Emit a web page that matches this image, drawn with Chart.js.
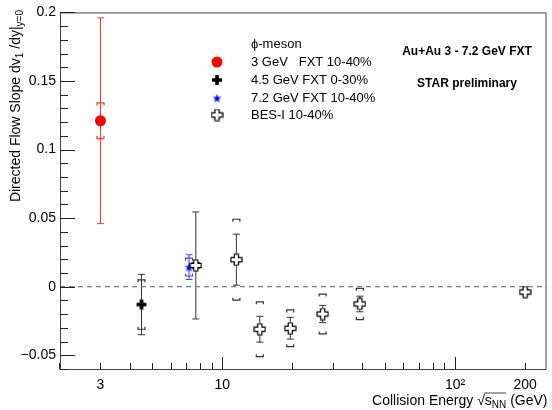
<!DOCTYPE html>
<html>
<head>
    <title>Directed flow slope of phi-meson</title>
    <style>
        body {
            margin: 0;
            background: #fff;
        }
        #wrap {
            width: 552px;
            height: 410px;
        }
    </style>
</head>
<body>
    <div id="wrap"><canvas id="flowChart"></canvas></div>

    <script src="https://cdn.jsdelivr.net/npm/chart.js"></script>
    <script>
        // values
        const phi3Energy = [3];
        const phi3Slope = [0.121];
        const phi3Stat = [0.075];
        const phi3Sys = [0.013];

        const phi45Energy = [4.5];
        const phi45Slope = [-0.013];
        const phi45Stat = [0.022];
        const phi45Sys = [0.018];

        const phi72Energy = [7.2];
        const phi72Slope = [0.0143];
        const phi72Stat = [0.009];
        const phi72Sys = [0.0065];

        const besEnergy = [7.7, 11.5, 14.5, 19.6, 27, 39, 200];
        const besSlope = [0.0155, 0.0197, -0.031, -0.0303, -0.0199, -0.0126, -0.0039];
        const besStat = [0.039, 0.0186, 0.0094, 0.0079, 0.0063, 0.0057, 0.001];
        const besSys = [0.002, 0.0295, 0.02, 0.0134, 0.0145, 0.0114, 0.0012];

        const xTickLabels = {3: '3', 10: '10', 100: '10\u00B2', 200: '200'};
        const xMajorTicks = [10, 100];
        const xMinorTicks = [2, 3, 4, 5, 6, 7, 8, 9, 20, 30, 40, 50, 60, 70, 80, 90, 200];
        const yTickVals = [-0.05, 0, 0.05, 0.1, 0.15, 0.2];
        const yMinorVals = [-0.06, -0.04, -0.03, -0.02, -0.01, 0.01, 0.02, 0.03, 0.04,
            0.06, 0.07, 0.08, 0.09, 0.11, 0.12, 0.13, 0.14, 0.16, 0.17, 0.18, 0.19];

        const legendLabels = ['3 GeV   FXT 10-40%', '4.5 GeV FXT 0-30%', '7.2 GeV FXT 10-40%', 'BES-I 10-40%'];

        const FONT = '"Liberation Sans", Arial, sans-serif';

        function toPoints(xs, ys) {
            return xs.map((x, i) => ({x: x, y: ys[i]}));
        }

        // little canvases used as point styles
        function crossMarker(size, arm, fill, stroke) {
            const c = document.createElement('canvas');
            c.width = size + 2;
            c.height = size + 2;
            const g = c.getContext('2d');
            const o = 1, s = size, a = arm, m = (s - a) / 2;
            g.beginPath();
            g.moveTo(o + m, o);
            g.lineTo(o + m + a, o);
            g.lineTo(o + m + a, o + m);
            g.lineTo(o + s, o + m);
            g.lineTo(o + s, o + m + a);
            g.lineTo(o + m + a, o + m + a);
            g.lineTo(o + m + a, o + s);
            g.lineTo(o + m, o + s);
            g.lineTo(o + m, o + m + a);
            g.lineTo(o, o + m + a);
            g.lineTo(o, o + m);
            g.lineTo(o + m, o + m);
            g.closePath();
            g.fillStyle = fill;
            g.fill();
            if (stroke) {
                g.strokeStyle = stroke;
                g.lineWidth = 1.2;
                g.stroke();
            }
            return c;
        }

        function starMarker(size, color) {
            const c = document.createElement('canvas');
            c.width = size;
            c.height = size;
            const g = c.getContext('2d');
            const cx = size / 2, cy = size / 2 + 0.5, R = size / 2, r = R * 0.42;
            g.beginPath();
            for (let i = 0; i < 10; i++) {
                const rad = i % 2 === 0 ? R : r;
                const ang = -Math.PI / 2 + i * Math.PI / 5;
                g.lineTo(cx + rad * Math.cos(ang), cy + rad * Math.sin(ang));
            }
            g.closePath();
            g.fillStyle = color;
            g.fill();
            return c;
        }

        const fullCross = crossMarker(10, 3.6, '#000', null);
        const openCross = crossMarker(11, 4.2, '#fff', '#000');
        const blueStar = starMarker(9, '#0000ff');

        // stat bars and sys brackets
        const errorBars = {
            id: 'errorBars',
            beforeDatasetsDraw(chart) {
                const ctx = chart.ctx;
                const y = chart.scales.y;
                ctx.save();
                chart.data.datasets.forEach((ds, di) => {
                    const meta = chart.getDatasetMeta(di);
                    meta.data.forEach((pt, i) => {
                        const v = ds.data[i].y;
                        const px = pt.x;
                        ctx.strokeStyle = ds.errColor;
                        ctx.lineWidth = 1;
                        const yt = y.getPixelForValue(v + ds.statErr[i]);
                        const yb = y.getPixelForValue(v - ds.statErr[i]);
                        ctx.beginPath();
                        ctx.moveTo(px, yt);
                        ctx.lineTo(px, yb);
                        ctx.moveTo(px - 3.5, yt);
                        ctx.lineTo(px + 3.5, yt);
                        ctx.moveTo(px - 3.5, yb);
                        ctx.lineTo(px + 3.5, yb);
                        ctx.stroke();
                        const st = y.getPixelForValue(v + ds.sysErr[i]);
                        const sb = y.getPixelForValue(v - ds.sysErr[i]);
                        ctx.lineWidth = 1.2;
                        ctx.beginPath();
                        ctx.moveTo(px - 3.5, st + 2.5);
                        ctx.lineTo(px - 3.5, st);
                        ctx.lineTo(px + 3.5, st);
                        ctx.lineTo(px + 3.5, st + 2.5);
                        ctx.moveTo(px - 3.5, sb - 2.5);
                        ctx.lineTo(px - 3.5, sb);
                        ctx.lineTo(px + 3.5, sb);
                        ctx.lineTo(px + 3.5, sb - 2.5);
                        ctx.stroke();
                    });
                });
                ctx.restore();
            }
        };

        // ROOT-like frame, inner ticks, zero line, titles, legend and labels
        const decorations = {
            id: 'decorations',
            beforeDatasetsDraw(chart) {
                const ctx = chart.ctx;
                const a = chart.chartArea;
                const ys = chart.scales.y;
                ctx.save();
                ctx.strokeStyle = '#777';
                ctx.lineWidth = 1.2;
                ctx.setLineDash([5, 4]);
                ctx.beginPath();
                ctx.moveTo(a.left, ys.getPixelForValue(0));
                ctx.lineTo(a.right, ys.getPixelForValue(0));
                ctx.stroke();
                ctx.restore();
            },
            afterDraw(chart) {
                const ctx = chart.ctx;
                const a = chart.chartArea;
                const xs = chart.scales.x;
                const ys = chart.scales.y;
                ctx.save();
                ctx.strokeStyle = '#444';
                ctx.lineWidth = 1;
                ctx.strokeRect(a.left + 0.5, a.top + 0.5, a.right - a.left - 1, a.bottom - a.top);

                // inner ticks
                ctx.fillStyle = '#222';
                yTickVals.forEach(v => {
                    ctx.fillRect(a.left, Math.round(ys.getPixelForValue(v)), 15, 1);
                });
                yMinorVals.forEach(v => {
                    ctx.fillRect(a.left, Math.round(ys.getPixelForValue(v)), 8, 1);
                });
                xMinorTicks.forEach(v => {
                    ctx.fillRect(Math.round(xs.getPixelForValue(v)), a.bottom - 6, 1, 6);
                });
                xMajorTicks.forEach(v => {
                    ctx.fillRect(Math.round(xs.getPixelForValue(v)), a.bottom - 12, 1, 12);
                });

                ctx.fillStyle = '#000';
                ctx.textBaseline = 'alphabetic';

                // x title
                const big = '14px ' + FONT;
                const small = '10px ' + FONT;
                const parts = [
                    ['Collision Energy ', big, 0],
                    ['\u221A', big, 0],
                    ['s', big, 0],
                    ['NN', small, 3],
                    [' (GeV)', big, 0]
                ];
                let w = 0;
                parts.forEach(p => { ctx.font = p[1]; w += ctx.measureText(p[0]).width; });
                let tx = a.right + 1 - w;
                const ty = 405;
                let barStart = 0, barEnd = 0;
                parts.forEach((p, i) => {
                    ctx.font = p[1];
                    ctx.textAlign = 'left';
                    ctx.fillText(p[0], tx, ty + p[2]);
                    if (i === 2) barStart = tx;
                    tx += ctx.measureText(p[0]).width;
                    if (i === 3) barEnd = tx;
                });
                ctx.beginPath();
                ctx.moveTo(barStart - 1, ty - 12);
                ctx.lineTo(barEnd, ty - 12);
                ctx.stroke();

                // y title, rotated
                ctx.save();
                ctx.translate(20, 0);
                ctx.rotate(-Math.PI / 2);
                const yparts = [
                    ['Directed Flow Slope dv', big, 0],
                    ['1', small, 3],
                    [' /dy|', big, 0],
                    ['y=0', small, 3]
                ];
                let yw = 0;
                yparts.forEach(p => { ctx.font = p[1]; yw += ctx.measureText(p[0]).width; });
                let rx = -10 - yw;
                yparts.forEach(p => {
                    ctx.font = p[1];
                    ctx.fillText(p[0], rx, p[2]);
                    rx += ctx.measureText(p[0]).width;
                });
                ctx.restore();

                // legend
                ctx.font = '13px ' + FONT;
                ctx.textAlign = 'left';
                ctx.textBaseline = 'middle';
                ctx.fillText('\u03D5-meson', 251, 44);
                const rows = [62, 80, 98, 115];
                legendLabels.forEach((t, i) => ctx.fillText(t, 251, rows[i]));
                ctx.fillStyle = '#ff0000';
                ctx.beginPath();
                ctx.arc(217, rows[0], 5.5, 0, Math.PI * 2);
                ctx.fill();
                [fullCross, blueStar, openCross].forEach((img, i) => {
                    ctx.drawImage(img, 217 - img.width / 2, rows[i + 1] - img.height / 2);
                });

                // labels on the right
                ctx.fillStyle = '#000';
                ctx.font = 'bold 12px ' + FONT;
                ctx.textAlign = 'center';
                ctx.fillText('Au+Au 3 - 7.2 GeV FXT', 467, 52);
                ctx.fillText('STAR preliminary', 467, 84);
                ctx.restore();
            }
        };

        const chart = new Chart(document.getElementById('flowChart'), {
            type: 'scatter',
            data: {
                datasets: [
                    {
                        label: legendLabels[0],
                        data: toPoints(phi3Energy, phi3Slope),
                        statErr: phi3Stat,
                        sysErr: phi3Sys,
                        errColor: '#ff3030',
                        pointStyle: 'circle',
                        pointRadius: 5.5,
                        backgroundColor: '#ff0000',
                        borderColor: '#ff0000',
                        borderWidth: 0
                    },
                    {
                        label: legendLabels[1],
                        data: toPoints(phi45Energy, phi45Slope),
                        statErr: phi45Stat,
                        sysErr: phi45Sys,
                        errColor: '#333',
                        pointStyle: fullCross
                    },
                    {
                        label: legendLabels[3],
                        data: toPoints(besEnergy, besSlope),
                        statErr: besStat,
                        sysErr: besSys,
                        errColor: '#333',
                        pointStyle: openCross
                    },
                    {
                        label: legendLabels[2],
                        data: toPoints(phi72Energy, phi72Slope),
                        statErr: phi72Stat,
                        sysErr: phi72Sys,
                        errColor: '#4040ff',
                        pointStyle: blueStar
                    }
                ]
            },
            options: {
                responsive: true,
                maintainAspectRatio: false,
                animation: false,
                layout: {
                    padding: {left: 0, right: 2, top: 12, bottom: 0}
                },
                plugins: {
                    legend: {display: false},
                    tooltip: {enabled: false}
                },
                scales: {
                    x: {
                        type: 'logarithmic',
                        min: 2.01,
                        max: 247,
                        grid: {display: false, drawTicks: false},
                        border: {display: false},
                        afterBuildTicks: scale => {
                            scale.ticks = Object.keys(xTickLabels).map(v => ({value: Number(v)}));
                        },
                        afterFit: scale => { scale.height = 41; },
                        ticks: {
                            autoSkip: false,
                            maxRotation: 0,
                            padding: 8,
                            color: '#000',
                            font: {family: FONT, size: 14},
                            callback: v => xTickLabels[v]
                        }
                    },
                    y: {
                        min: -0.06,
                        max: 0.2,
                        grid: {display: false, drawTicks: false},
                        border: {display: false},
                        afterBuildTicks: scale => {
                            scale.ticks = yTickVals.map(v => ({value: v}));
                        },
                        afterFit: scale => { scale.width = 60; },
                        ticks: {
                            padding: 4,
                            color: '#000',
                            font: {family: FONT, size: 14},
                            callback: v => (v < 0 ? '\u2212' + String(-v) : String(v))
                        }
                    }
                }
            },
            plugins: [errorBars, decorations]
        });
    </script>
</body>
</html>
